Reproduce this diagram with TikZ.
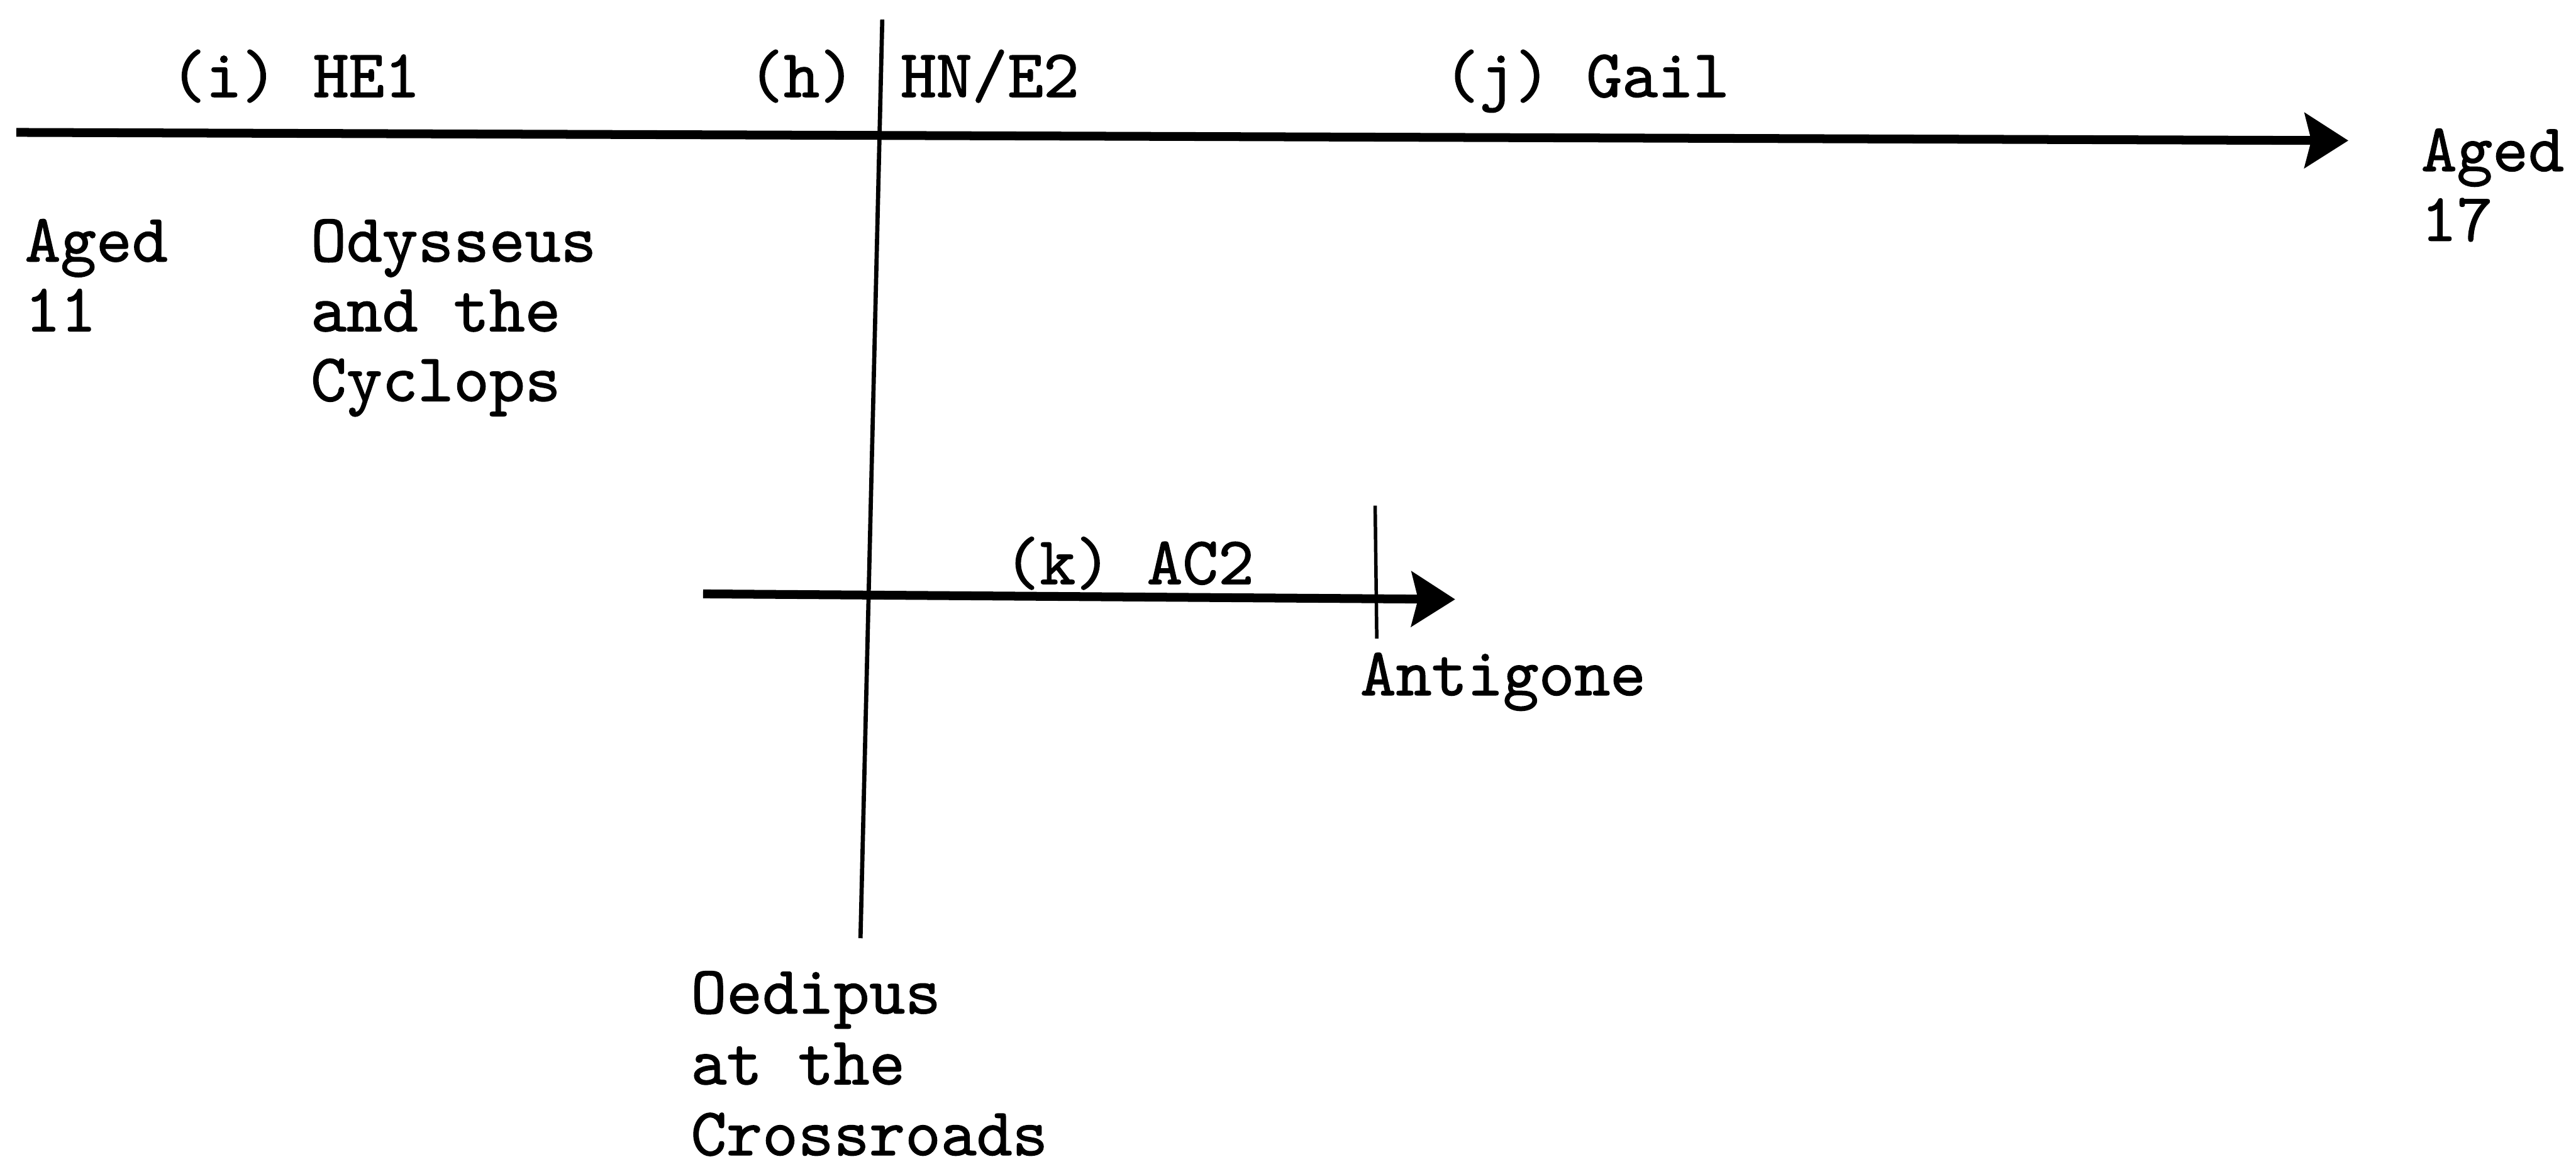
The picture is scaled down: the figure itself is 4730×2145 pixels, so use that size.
\documentclass[tikz,border=0pt]{standalone}
\usepackage{fontspec}
\newfontfamily\typefont{lmmono10-regular.otf}[FakeBold=1.2]
\usetikzlibrary{arrows.meta}
\newcommand{\twlines}[1]{\vtop{\halign{##\hfil\cr#1\crcr}}}
\tikzset{
  typed/.style={font={\typefont\fontsize{35.5pt}{36.4pt}\selectfont}, inner sep=0pt, anchor=base west},
  typedwide/.style={typed, font={\typefont\fontsize{35.5pt}{37pt}\selectfont}},
  timeline/.style={line width=4.6pt, -{Stealth[length=0.8cm,width=1.0cm,inset=0.12cm]}},
  divider/.style={line width=2.2pt},
  tick/.style={line width=1.8pt},
}
\begin{document}
\begin{tikzpicture}[x=0.01cm, y=-0.01cm]
  \useasboundingbox (0,0) rectangle (4730,2145);
  % coordinates for line ends
  \coordinate (mainL) at (30,243);
  \coordinate (mainR) at (4312,258);
  \coordinate (vTop) at (1620,36);
  \coordinate (vBot) at (1580,1722);
  \coordinate (kL) at (1291,1090);
  \coordinate (kR) at (2672,1100);
  \coordinate (tickTop) at (2525,928);
  \coordinate (tickBot) at (2528,1172);
  % lines
  \draw[timeline] (mainL) -- (mainR);
  \draw[divider] (vTop) -- (vBot);
  \draw[timeline] (kL) -- (kR);
  \draw[tick] (tickTop) -- (tickBot);
  % labels
  \node[typed] (iHE) at (312,178) {(i) HE1};
  \node[typed] (h) at (1373,178) {(h)};
  \node[typed] (HNE) at (1653,178) {HN/E2};
  \node[typed] (jGail) at (2650,178) {(j) Gail};
  \node[typed] (aged11) at (45,480) {\twlines{Aged\cr 11}};
  \node[typed] (odys) at (570,480) {\twlines{Odysseus\cr and the\cr Cyclops}};
  \node[typed] (aged17) at (4445,314) {\twlines{Aged\cr 17}};
  \node[typed] (kAC) at (1843,1072) {(k) AC2};
  \node[typed] (anti) at (2497,1276) {Antigone};
  \node[typedwide] (oed) at (1268,1860) {\twlines{Oedipus\cr at the\cr Crossroads}};
\end{tikzpicture}
\end{document}
